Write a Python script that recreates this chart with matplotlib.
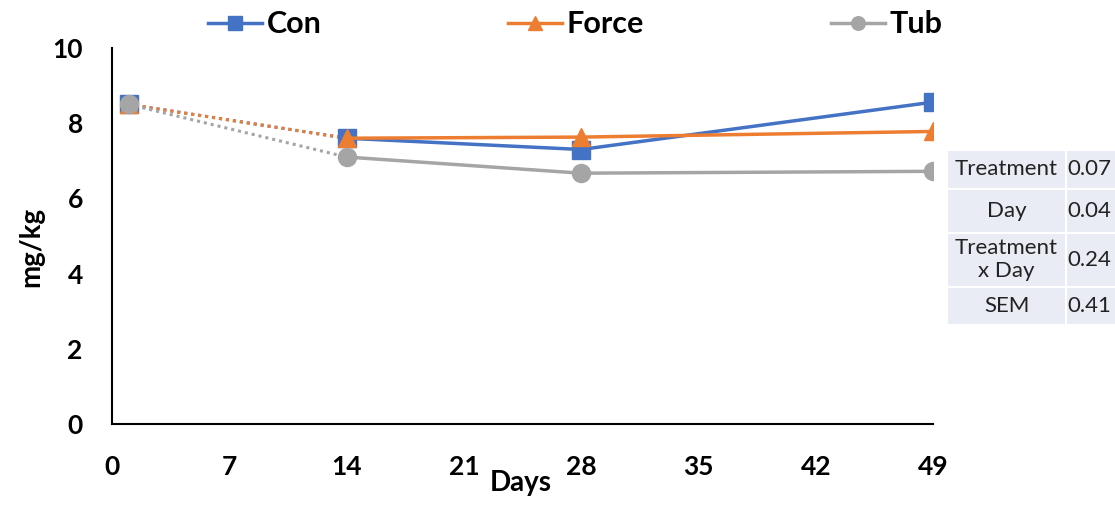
import matplotlib.pyplot as plt

days = [1, 14, 28, 49]
con = [8.5, 7.6, 7.3, 8.56]
force = [8.5, 7.6, 7.63, 7.78]
tub = [8.5, 7.1, 6.67, 6.72]

x_ticks = [0, 7, 14, 21, 28, 35, 42, 49]
y_ticks = [0, 2, 4, 6, 8, 10]

table_rows = ["Treatment", "Day", "Treatment\nx Day", "SEM"]
table_vals = ["0.07", "0.04", "0.24", "0.41"]

plt.rcParams['font.family'] = ['Lato', 'DejaVu Sans']

fig = plt.figure(figsize=(11.15, 5.05), dpi=100)
ax = fig.add_axes([0.1004, 0.1604, 0.7364, 0.7446])

series = [
    ("Con", con, "#4472C4", "s"),
    ("Force", force, "#ED7D31", "^"),
    ("Tub", tub, "#A5A5A5", "o"),
]

handles = []
for name, vals, col, mk in series:
    # dotted first segment, solid afterwards
    ax.plot(days[:2], vals[:2], color=col, lw=2.2, ls=(0, (1, 1.3)), zorder=2)
    h, = ax.plot(days[1:], vals[1:], color=col, lw=2.5, marker=mk, ms=13,
                 label=name, zorder=3)
    ax.plot(days[:1], vals[:1], color=col, marker=mk, ms=13, ls="none", zorder=3)
    handles.append(h)

ax.set_xlim(0, 49)
ax.set_ylim(0, 10)
ax.set_xticks(x_ticks)
ax.set_yticks(y_ticks)
ax.tick_params(axis="x", length=0, labelsize=19, pad=22)
ax.tick_params(axis="y", length=0, labelsize=19, pad=21)
for lab in ax.get_xticklabels() + ax.get_yticklabels():
    lab.set_fontweight("bold")
ax.spines["top"].set_visible(False)
ax.spines["right"].set_visible(False)
ax.spines["left"].set_linewidth(1.5)
ax.spines["bottom"].set_linewidth(1.5)
ax.set_xlabel("Days", fontsize=20, fontweight="bold")
ax.set_ylabel("mg/kg", fontsize=20, fontweight="bold")
ax.xaxis.set_label_coords(0.498, -0.122)
ax.yaxis.set_label_coords(-0.082, 0.47)

fig.legend(handles=handles, loc="center", bbox_to_anchor=(0.516, 0.952),
           ncol=3, frameon=False, handlelength=1.76, markerscale=0.75,
           handletextpad=0.16, columnspacing=6.1,
           prop={"weight": "bold", "size": 22})

tbl = ax.table(cellText=[[r, v] for r, v in zip(table_rows, table_vals)],
               cellLoc="center", bbox=[1.017, 0.263, 0.22, 0.466],
               colWidths=[0.145, 0.075])
tbl.auto_set_font_size(False)
tbl.set_fontsize(16)
heights = [39, 44, 55, 38]
tot = sum(heights)
for (r, c), cell in tbl.get_celld().items():
    cell.set_facecolor("#E9EBF5")
    cell.set_edgecolor("white")
    cell.set_linewidth(1.5)
    cell.set_height(0.466 * heights[r] / tot)
    cell.set_clip_on(False)
    cell.get_text().set_color("#222222")
    if c == 1:
        cell.get_text().set_ha("left")
        cell._loc = "left"
        cell.PAD = 0.02

fig.savefig("out.png", dpi=100)
